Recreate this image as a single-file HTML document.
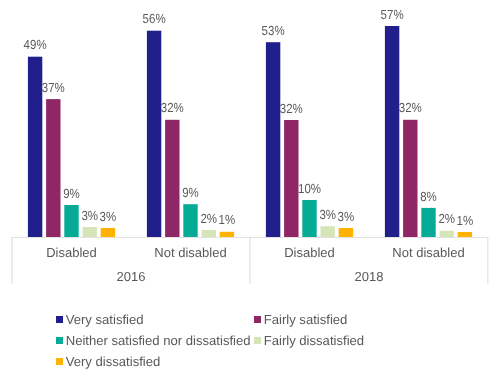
<!DOCTYPE html><html><head><meta charset="utf-8"><style>html,body{margin:0;padding:0;background:#fff;width:500px;height:376px;overflow:hidden}svg{display:block;will-change:transform}text{font-family:"Liberation Sans",sans-serif;fill:#595959;text-rendering:geometricPrecision}</style></head><body>
<svg width="500" height="376" viewBox="0 0 500 376">
<rect x="0" y="0" width="500" height="376" fill="#fff"/>
<rect x="27.90" y="56.70" width="14.40" height="180.30" fill="#201F8B"/>
<rect x="46.10" y="99.10" width="14.40" height="137.90" fill="#8F2766"/>
<rect x="64.30" y="205.00" width="14.40" height="32.00" fill="#06AB96"/>
<rect x="82.50" y="227.00" width="14.40" height="10.00" fill="#D6E5B8"/>
<rect x="100.70" y="228.00" width="14.40" height="9.00" fill="#FFB300"/>
<rect x="146.90" y="30.70" width="14.40" height="206.30" fill="#201F8B"/>
<rect x="165.10" y="119.80" width="14.40" height="117.20" fill="#8F2766"/>
<rect x="183.30" y="204.20" width="14.40" height="32.80" fill="#06AB96"/>
<rect x="201.50" y="229.90" width="14.40" height="7.10" fill="#D6E5B8"/>
<rect x="219.70" y="231.80" width="14.40" height="5.20" fill="#FFB300"/>
<rect x="265.90" y="42.20" width="14.40" height="194.80" fill="#201F8B"/>
<rect x="284.10" y="120.00" width="14.40" height="117.00" fill="#8F2766"/>
<rect x="302.30" y="200.00" width="14.40" height="37.00" fill="#06AB96"/>
<rect x="320.50" y="226.20" width="14.40" height="10.80" fill="#D6E5B8"/>
<rect x="338.70" y="228.00" width="14.40" height="9.00" fill="#FFB300"/>
<rect x="384.90" y="26.00" width="14.40" height="211.00" fill="#201F8B"/>
<rect x="403.10" y="119.80" width="14.40" height="117.20" fill="#8F2766"/>
<rect x="421.30" y="207.90" width="14.40" height="29.10" fill="#06AB96"/>
<rect x="439.50" y="230.70" width="14.40" height="6.30" fill="#D6E5B8"/>
<rect x="457.70" y="232.00" width="14.40" height="5.00" fill="#FFB300"/>
<text transform="translate(35.10 49.30) scale(1 1.150)" font-size="11.5" text-anchor="middle">49%</text>
<text transform="translate(53.30 91.70) scale(1 1.150)" font-size="11.5" text-anchor="middle">37%</text>
<text transform="translate(71.50 197.60) scale(1 1.150)" font-size="11.5" text-anchor="middle">9%</text>
<text transform="translate(89.70 219.60) scale(1 1.150)" font-size="11.5" text-anchor="middle">3%</text>
<text transform="translate(107.90 220.60) scale(1 1.150)" font-size="11.5" text-anchor="middle">3%</text>
<text transform="translate(154.10 23.30) scale(1 1.150)" font-size="11.5" text-anchor="middle">56%</text>
<text transform="translate(172.30 112.40) scale(1 1.150)" font-size="11.5" text-anchor="middle">32%</text>
<text transform="translate(190.50 196.80) scale(1 1.150)" font-size="11.5" text-anchor="middle">9%</text>
<text transform="translate(208.70 222.50) scale(1 1.150)" font-size="11.5" text-anchor="middle">2%</text>
<text transform="translate(226.90 224.40) scale(1 1.150)" font-size="11.5" text-anchor="middle">1%</text>
<text transform="translate(273.10 34.80) scale(1 1.150)" font-size="11.5" text-anchor="middle">53%</text>
<text transform="translate(291.30 112.60) scale(1 1.150)" font-size="11.5" text-anchor="middle">32%</text>
<text transform="translate(309.50 192.60) scale(1 1.150)" font-size="11.5" text-anchor="middle">10%</text>
<text transform="translate(327.70 218.80) scale(1 1.150)" font-size="11.5" text-anchor="middle">3%</text>
<text transform="translate(345.90 220.60) scale(1 1.150)" font-size="11.5" text-anchor="middle">3%</text>
<text transform="translate(392.10 18.60) scale(1 1.150)" font-size="11.5" text-anchor="middle">57%</text>
<text transform="translate(410.30 112.40) scale(1 1.150)" font-size="11.5" text-anchor="middle">32%</text>
<text transform="translate(428.50 200.50) scale(1 1.150)" font-size="11.5" text-anchor="middle">8%</text>
<text transform="translate(446.70 223.30) scale(1 1.150)" font-size="11.5" text-anchor="middle">2%</text>
<text transform="translate(464.90 224.60) scale(1 1.150)" font-size="11.5" text-anchor="middle">1%</text>
<path d="M12,237.5H488" stroke="#E2E2E2" stroke-width="1" fill="none"/>
<path d="M11.9,237V283.7M249.9,237V283.7M487.8,237V283.7" stroke="#E2E2E2" stroke-width="1.3" fill="none"/>
<text x="71.50" y="257" font-size="13" text-anchor="middle">Disabled</text>
<text x="190.50" y="257" font-size="13" text-anchor="middle">Not disabled</text>
<text x="309.50" y="257" font-size="13" text-anchor="middle">Disabled</text>
<text x="428.50" y="257" font-size="13" text-anchor="middle">Not disabled</text>
<text x="131" y="280.8" font-size="13" text-anchor="middle">2016</text>
<text x="369" y="280.8" font-size="13" text-anchor="middle">2018</text>
<rect x="56" y="316" width="7" height="7" fill="#201F8B"/>
<text x="65.7" y="323.5" font-size="13.1">Very satisfied</text>
<rect x="254" y="316" width="7" height="7" fill="#8F2766"/>
<text x="263.7" y="323.5" font-size="13.1">Fairly satisfied</text>
<rect x="56" y="337" width="7" height="7" fill="#06AB96"/>
<text x="65.7" y="344.7" font-size="13.1">Neither satisfied nor dissatisfied</text>
<rect x="254" y="337" width="7" height="7" fill="#D6E5B8"/>
<text x="263.7" y="344.7" font-size="13.1">Fairly dissatisfied</text>
<rect x="56" y="358" width="7" height="7" fill="#FFB300"/>
<text x="65.7" y="365.8" font-size="13.1">Very dissatisfied</text>
</svg></body></html>
